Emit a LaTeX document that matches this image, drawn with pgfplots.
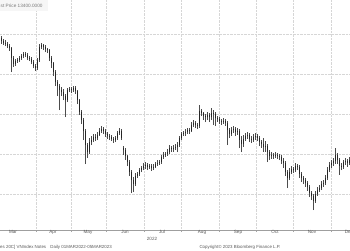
\documentclass[border=0pt]{standalone}
\usepackage{fontspec}
\setmainfont{Liberation Sans}
\usepackage{pgfplots}
\usepackage{pgfplotstable}
\pgfplotsset{compat=1.18}
\definecolor{txt}{gray}{0.35}
\definecolor{gridc}{gray}{0.84}
\pgfplotstableread{
x o c h l
1 1490 1482 1496 1476
3 1482 1478 1488 1472
5 1478 1475 1484 1469
7 1475 1470 1480 1464
9 1470 1465 1476 1458
11 1465 1440 1468 1405
13 1440 1425 1444 1418
15 1425 1432 1438 1420
17 1432 1435 1440 1428
19 1435 1440 1446 1430
21 1440 1445 1450 1436
23 1445 1450 1456 1440
25 1450 1448 1455 1442
27 1448 1440 1452 1435
29 1440 1438 1445 1432
31 1438 1430 1442 1424
33 1430 1420 1434 1414
35 1420 1415 1424 1408
37 1415 1435 1440 1410
39 1435 1468 1474 1430
41 1468 1472 1478 1462
43 1472 1468 1476 1460
45 1468 1462 1472 1455
47 1462 1460 1466 1452
49 1460 1440 1462 1432
51 1440 1428 1444 1415
53 1428 1405 1430 1395
55 1405 1380 1410 1370
57 1380 1370 1386 1345
59 1370 1360 1375 1310
61 1360 1355 1368 1345
63 1355 1345 1362 1335
65 1345 1335 1350 1292
67 1335 1360 1366 1330
69 1360 1362 1368 1354
71 1362 1360 1367 1352
73 1360 1365 1370 1355
75 1365 1358 1370 1350
77 1358 1335 1360 1325
79 1335 1305 1338 1298
81 1305 1285 1310 1275
83 1285 1258 1290 1235
85 1258 1222 1262 1175
87 1222 1205 1228 1190
89 1205 1230 1240 1200
91 1230 1235 1245 1222
93 1235 1242 1250 1230
95 1242 1240 1250 1232
97 1240 1248 1255 1235
99 1248 1258 1265 1245
101 1258 1262 1270 1252
103 1262 1258 1268 1250
105 1258 1250 1262 1243
107 1250 1245 1255 1238
109 1245 1242 1250 1235
111 1242 1238 1247 1232
113 1238 1235 1243 1228
115 1235 1240 1246 1230
117 1240 1252 1258 1236
119 1252 1258 1264 1248
121 1258 1240 1262 1235
123 1215 1210 1220 1198
125 1210 1195 1214 1186
127 1195 1180 1198 1170
129 1180 1155 1184 1145
131 1155 1135 1160 1102
133 1135 1125 1142 1105
135 1125 1145 1152 1120
137 1145 1150 1156 1140
139 1150 1160 1166 1145
141 1160 1165 1170 1155
143 1165 1170 1178 1160
145 1170 1172 1180 1162
147 1172 1168 1178 1160
149 1168 1170 1176 1162
151 1170 1165 1174 1158
153 1165 1168 1174 1160
155 1168 1175 1180 1164
157 1175 1178 1184 1170
159 1178 1180 1186 1172
161 1180 1192 1198 1176
163 1192 1198 1204 1188
165 1198 1200 1206 1192
167 1200 1205 1212 1196
169 1205 1215 1222 1200
171 1215 1212 1220 1205
173 1212 1215 1222 1206
175 1215 1218 1224 1210
177 1218 1222 1230 1205
179 1222 1240 1246 1218
181 1240 1250 1256 1235
183 1250 1252 1258 1245
185 1252 1255 1262 1246
187 1255 1260 1266 1250
189 1260 1258 1265 1250
191 1258 1272 1280 1255
193 1272 1278 1284 1268
195 1278 1272 1282 1265
197 1272 1270 1278 1262
199 1270 1308 1322 1266
201 1308 1302 1312 1295
203 1302 1295 1306 1285
205 1295 1292 1300 1280
207 1292 1298 1305 1285
209 1298 1292 1302 1280
211 1292 1302 1315 1285
213 1302 1300 1310 1272
215 1300 1290 1305 1270
217 1290 1288 1296 1280
219 1288 1282 1292 1275
221 1282 1280 1288 1272
223 1280 1282 1290 1275
225 1282 1278 1288 1270
227 1278 1260 1282 1222
229 1260 1250 1265 1240
231 1250 1260 1268 1245
233 1260 1262 1270 1252
235 1262 1255 1268 1245
237 1255 1258 1264 1248
239 1258 1235 1262 1215
241 1235 1225 1245 1205
243 1225 1238 1248 1218
245 1238 1245 1252 1232
247 1245 1248 1255 1238
249 1248 1238 1252 1230
251 1238 1235 1245 1228
253 1235 1242 1250 1230
255 1242 1245 1252 1236
257 1245 1240 1250 1232
259 1240 1230 1245 1220
261 1230 1225 1236 1215
263 1225 1218 1240 1205
265 1218 1220 1232 1206
267 1220 1205 1224 1180
269 1205 1195 1210 1185
271 1195 1198 1204 1188
273 1198 1195 1203 1188
275 1195 1198 1204 1190
277 1198 1195 1202 1188
279 1195 1192 1200 1185
281 1192 1182 1198 1175
283 1182 1178 1190 1165
285 1178 1155 1182 1145
287 1155 1140 1160 1115
289 1140 1155 1165 1135
291 1155 1162 1170 1150
293 1162 1160 1168 1152
295 1160 1170 1178 1155
297 1170 1168 1176 1160
299 1168 1150 1172 1140
301 1150 1140 1156 1130
303 1140 1135 1146 1125
305 1135 1128 1140 1118
307 1128 1118 1132 1108
309 1118 1102 1122 1092
311 1102 1095 1108 1085
313 1095 1082 1100 1060
315 1082 1100 1108 1078
317 1100 1110 1118 1095
319 1110 1115 1122 1105
321 1115 1125 1132 1110
323 1125 1128 1135 1118
325 1128 1140 1148 1122
327 1140 1160 1168 1135
329 1160 1172 1180 1155
331 1172 1178 1185 1165
333 1178 1182 1190 1170
335 1182 1198 1215 1175
337 1198 1185 1202 1175
339 1185 1170 1190 1148
341 1170 1168 1178 1160
343 1168 1180 1186 1162
345 1180 1182 1190 1172
347 1182 1178 1188 1168
349 1178 1185 1192 1172
}\candles
\begin{document}
\begin{tikzpicture}
\path[use as bounding box] (0pt,0pt) rectangle (350pt,250pt);
\clip (0pt,0pt) rectangle (350pt,250pt);
\begin{axis}[
  at={(0pt,20pt)}, anchor=south west,
  scale only axis, width=350pt, height=230pt,
  xmin=0, xmax=350, ymin=1010, ymax=1585,
  axis x line*=bottom, axis y line*=left,
  y axis line style={draw=none},
  x axis line style={gray!75, line width=0.5pt},
  xtick={36,71,106,144,181,219,256,293,331},
  xticklabels={},
  extra x ticks={13,53,88,125,162,202,238,275,312,349},
  extra x tick labels={Mar,Apr,May,Jun,Jul,Aug,Sep,Oct,Nov,Dec},
  extra x tick style={grid=none, major tick length=0pt, xtick style={draw=none}},
  ytick={1100,1200,1300,1400,1500}, yticklabels={},
  ytick style={draw=none},
  xmajorgrids, ymajorgrids,
  grid style={densely dotted, gridc, line width=0.4pt},
  xtick style={gray!70, line width=0.5pt},
  major tick length=2pt, tick align=outside,
  xticklabel style={font=\fontsize{4.6}{5}\selectfont, text=txt, inner sep=0pt},
]
\addplot[draw=none, mark=none, error bars/.cd, y dir=plus, y explicit, error mark=none,
  error bar style={draw=gray!60!black, line width=0.4pt}]
  table[x=x, y=l, y error plus expr={\thisrow{h}-\thisrow{l}}] {\candles};
\addplot[draw=none, mark=none, error bars/.cd, y dir=plus, y explicit, error mark=none,
  error bar style={draw=black!85, line width=0.85pt}]
  table[x=x, y expr={min(\thisrow{o},\thisrow{c})}, y error plus expr={abs(\thisrow{c}-\thisrow{o})}] {\candles};
\end{axis}
\fill[gray!7] (0pt,239pt) rectangle (48pt,250pt);
\node[anchor=west, inner sep=0pt, font=\fontsize{4.7}{5}\selectfont, text=txt!80] at (0.5pt,244pt) {st Price 13400.0000};
\node[inner sep=0pt, font=\fontsize{4.6}{5}\selectfont, text=txt] at (152pt,11pt) {2022};
\node[anchor=west, inner sep=0pt, font=\fontsize{4.4}{5}\selectfont, text=txt] at (0pt,3pt) {es 20C] VNIndex Notes\hspace{3pt} Daily 01MAR2022-05MAR2023};
\node[inner sep=0pt, font=\fontsize{4.4}{5}\selectfont, text=txt] at (240pt,3pt) {Copyright\textcopyright{} 2023 Bloomberg Finance L.P.};
\end{tikzpicture}
\end{document}
